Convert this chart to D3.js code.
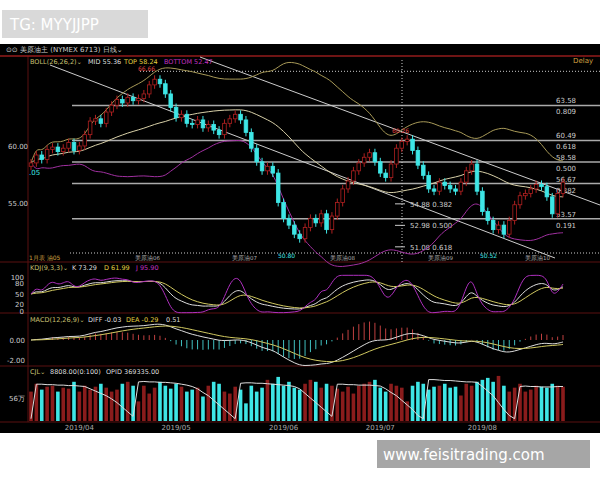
<!DOCTYPE html>
<html><head><meta charset="utf-8">
<script src="https://cdn.jsdelivr.net/npm/d3@7"></script>
<style>body{margin:0;background:#fff}svg text{font-family:"DejaVu Sans",sans-serif}</style>
</head><body><svg id="c" width="600" height="480"></svg>
<script>
const closes=[58.5,59.2,58.8,59.7,59.9,59.5,59.8,60.3,59.6,60.0,
61.0,62.2,62.4,62.0,63.0,63.6,64.1,63.8,64.3,64.0,
64.2,64.6,65.4,65.9,65.5,64.6,63.4,62.5,62.8,62.0,
61.9,62.3,61.6,61.9,61.4,61.0,62.0,62.4,62.8,62.3,
61.2,59.8,58.6,57.8,58.2,57.6,55.0,53.6,53.0,52.2,
51.8,52.8,53.6,53.2,54.0,52.6,53.8,55.0,56.2,56.9,
57.8,58.5,59.0,59.4,58.6,57.6,57.2,58.4,59.8,60.4,
60.6,59.6,58.3,57.4,56.2,56.0,56.8,56.5,56.2,56.0,
56.8,57.8,58.4,56.0,54.2,53.4,52.6,53.0,52.2,53.4,
54.8,55.6,55.8,56.2,56.6,56.4,55.5,54.0,55.8,56.8];
const volumes=[30,38,32,35,36,30,34,33,40,30,36,32,35,38,34,30,32,38,40,36,
20,36,28,34,40,36,33,38,35,30,32,34,25,36,40,38,30,28,35,32,
18,36,30,34,42,38,45,36,40,34,32,38,42,40,34,38,36,33,30,35,
28,36,38,40,42,34,30,38,36,34,20,36,40,38,32,35,36,38,34,35,
26,38,36,40,42,44,40,46,36,30,34,38,30,32,36,35,34,38,36,35];
const oiVals=[5,80,80,79,79,78,78,77,77,76,75,70,65,60,55,48,40,30,20,10,
85,86,85,85,84,84,83,82,80,78,75,70,62,55,45,35,25,15,5,82,
83,83,82,82,81,80,79,78,77,75,70,60,50,40,30,20,10,80,80,79,
79,78,78,78,77,76,70,62,55,45,35,25,12,5,90,90,89,88,88,87,
86,85,85,84,75,65,55,40,25,12,5,75,76,75,75,74,74,74,75,75];
const fibs=[[63.58,"0.809"],[60.49,"0.618"],[58.58,"0.500"],[56.67,"0.382"],[53.57,"0.191"]];
const innerFibs=[[54.88,"0.382"],[52.98,"0.500"],[51.08,"0.618"]];
const months=["2019/04","2019/05","2019/06","2019/07","2019/08"];
const monthIdx=[9,27,47,65,84];

const svg=d3.select("#c");
svg.append("rect").attr("x",0).attr("y",44).attr("width",600).attr("height",389).attr("fill","#000");
svg.append("rect").attr("x",2).attr("y",10).attr("width",146).attr("height",28).attr("fill","#d9d9d9");
svg.append("text").attr("x",10).attr("y",30).attr("font-size",15).attr("fill","#fff").text("TG: MYYJJPP");
svg.append("rect").attr("x",377).attr("y",440).attr("width",213).attr("height",28).attr("fill","#a6a6a6");
svg.append("text").attr("x",383).attr("y",460).attr("font-size",15).attr("fill","#fff").text("www.feisitrading.com");

const n=closes.length;
const x=d3.scaleLinear().domain([0,n-1]).range([31,563]);
const y=d3.scaleLinear().domain([50.8,67.6]).range([250,60]);
const opens=closes.map((c,i)=>i?closes[i-1]:c-0.3);
const red="#b02020",cyan="#3ee6e6",border="#5a1010";

[56,262,313,366,422].forEach(yy=>svg.append("line").attr("x1",0).attr("x2",600).attr("y1",yy).attr("y2",yy).attr("stroke",border));
svg.append("line").attr("x1",28).attr("x2",28).attr("y1",56).attr("y2",422).attr("stroke",border);
svg.append("line").attr("x1",0).attr("x2",600).attr("y1",56).attr("y2",56).attr("stroke","#b02020");

fibs.forEach(([v,r])=>{svg.append("line").attr("x1",72).attr("x2",600).attr("y1",y(v)).attr("y2",y(v)).attr("stroke","#aaa").attr("stroke-width",1.5);
 svg.append("text").attr("x",556).attr("y",y(v)-2).attr("font-size",7).attr("fill","#ccc").text(v.toFixed(2));
 svg.append("text").attr("x",556).attr("y",y(v)+9).attr("font-size",7).attr("fill","#ccc").text(r);});
innerFibs.forEach(([v,r])=>{svg.append("line").attr("x1",395).attr("x2",405).attr("y1",y(v)).attr("y2",y(v)).attr("stroke","#ccc");
 svg.append("text").attr("x",410).attr("y",y(v)+3).attr("font-size",7).attr("fill","#ccc").text(v.toFixed(2)+" "+r);});
svg.append("line").attr("x1",140).attr("x2",600).attr("y1",y(66.6)).attr("y2",y(66.6)).attr("stroke","#ccc").attr("stroke-dasharray","1,2");
svg.append("line").attr("x1",70).attr("x2",600).attr("y1",253).attr("y2",253).attr("stroke","#ccc").attr("stroke-dasharray","1,2");
svg.append("line").attr("x1",402).attr("x2",402).attr("y1",60).attr("y2",262).attr("stroke","#ccc").attr("stroke-dasharray","1,2");
svg.append("line").attr("x1",200).attr("y1",57).attr("x2",600).attr("y2",205).attr("stroke","#ccc");
svg.append("line").attr("x1",50).attr("y1",65).attr("x2",555).attr("y2",258).attr("stroke","#ccc");

const boll=closes.map((c,i)=>{const s=closes.slice(Math.max(0,i-25),i+1);const m=d3.mean(s),sd=d3.deviation(s)||0;return [m,m+2*sd,m-2*sd];});
const ln=k=>d3.line().x((d,i)=>x(i)).y(d=>y(d[k])).curve(d3.curveBasis);
svg.append("path").datum(boll).attr("d",ln(0)).attr("fill","none").attr("stroke","#d8d0a8");
svg.append("path").datum(boll).attr("d",ln(1)).attr("fill","none").attr("stroke","#a89a58");
svg.append("path").datum(boll).attr("d",ln(2)).attr("fill","none").attr("stroke","#a030a0");

closes.forEach((c,i)=>{const o=opens[i],up=c>=o,col=up?red:cyan;
 svg.append("line").attr("x1",x(i)).attr("x2",x(i)).attr("y1",y(Math.max(o,c)+0.35)).attr("y2",y(Math.min(o,c)-0.35)).attr("stroke",col);
 svg.append("rect").attr("x",x(i)-1.8).attr("width",3.6).attr("y",y(Math.max(o,c))).attr("height",Math.max(1,Math.abs(y(o)-y(c))))
 .attr("fill",up?"#000":col).attr("stroke",col).attr("stroke-width",0.8);});

svg.append("text").attr("x",6).attr("y",52).attr("font-size",7).attr("fill","#ccc").text("⊙⊙ 美原油主 (NYMEX 6713)   日线⌄");
[["BOLL(26,26,2)⌄",30,"#c8c070"],["MID 55.36",88,"#ddd"],["TOP 58.24",124,"#e0d040"],["BOTTOM 52.47",164,"#c030c0"]]
 .forEach(([t,xx,c])=>svg.append("text").attr("x",xx).attr("y",64).attr("font-size",6.5).attr("fill",c).text(t));
svg.append("text").attr("x",573).attr("y",63).attr("font-size",7).attr("fill","#d0a040").text("Delay");
svg.append("text").attr("x",138).attr("y",71).attr("font-size",6).attr("fill","#e04040").text("66.66");
svg.append("text").attr("x",392).attr("y",133).attr("font-size",6).attr("fill","#e04040").text("60.26");
svg.append("text").attr("x",278).attr("y",258).attr("font-size",6).attr("fill",cyan).text("50.80");
svg.append("text").attr("x",480).attr("y",258).attr("font-size",6).attr("fill",cyan).text("50.52");
[[60,"60.00"],[55,"55.00"]].forEach(([v,t])=>svg.append("text").attr("x",8).attr("y",y(v)+3).attr("font-size",7).attr("fill","#ccc").text(t));
svg.append("text").attr("x",29).attr("y",175).attr("font-size",7).attr("fill",cyan).text(".05");
svg.append("text").attr("x",29).attr("y",260).attr("font-size",6).attr("fill","#d0a040").text("1月表 油05");
["美原油06","美原油07","美原油08","美原油09","美原油10"].forEach((t,i)=>svg.append("text").attr("x",[135,232,330,428,525][i]).attr("y",260).attr("font-size",5.5).attr("fill","#aaa").text(t));

let K=50,D=50;const kdj=closes.map((c,i)=>{const s=closes.slice(Math.max(0,i-8),i+1);const hi=d3.max(s)+0.35,lo=d3.min(s)-0.35;const rsv=(c-lo)/(hi-lo)*100;K=2/3*K+rsv/3;D=2/3*D+K/3;return [K,D,3*K-2*D];});
const yk=d3.scaleLinear().domain([0,100]).range([311,277]);
[[0,"#ddd"],[1,"#d0c860"],[2,"#b030c0"]].forEach(([k,c])=>svg.append("path").datum(kdj).attr("d",d3.line().x((d,i)=>x(i)).y(d=>yk(Math.max(-5,Math.min(105,d[k])))).curve(d3.curveBasis)).attr("fill","none").attr("stroke",c));
[100,80,50,20,0].forEach(v=>svg.append("text").attr("x",24).attr("y",yk(v)+2.5).attr("font-size",7).attr("text-anchor","end").attr("fill","#ccc").text(v));
[["KDJ(9,3,3)⌄",30,"#c8c070"],["K 73.29",72,"#ddd"],["D 61.99",104,"#e0d040"],["J 95.90",136,"#c030c0"]].forEach(([t,xx,c])=>svg.append("text").attr("x",xx).attr("y",270).attr("font-size",6.5).attr("fill",c).text(t));

const ema=(arr,p)=>{let e=arr[0];return arr.map(v=>e=e+(v-e)*2/(p+1));};
const e12=ema(closes,12),e26=ema(closes,26);const dif=e12.map((v,i)=>v-e26[i]);const dea=ema(dif,9);
const ym=d3.scaleLinear().domain([-2.4,1.8]).range([364,322]);
dif.forEach((d,i)=>{const h=(d-dea[i])*2;svg.append("line").attr("x1",x(i)).attr("x2",x(i)).attr("y1",ym(0)).attr("y2",ym(h)).attr("stroke",h>=0?"#c04040":"#40c0c0");});
svg.append("path").datum(dif).attr("d",d3.line().x((d,i)=>x(i)).y(d=>ym(d)).curve(d3.curveBasis)).attr("fill","none").attr("stroke","#ddd");
svg.append("path").datum(dea).attr("d",d3.line().x((d,i)=>x(i)).y(d=>ym(d)).curve(d3.curveBasis)).attr("fill","none").attr("stroke","#d0c860");
[[0,"0.00"],[-2,"-2.00"]].forEach(([v,t])=>svg.append("text").attr("x",25).attr("y",ym(v)+2.5).attr("font-size",7).attr("text-anchor","end").attr("fill","#ccc").text(t));
[["MACD(12,26,9)⌄",30,"#c8c070"],["DIFF -0.03",88,"#ddd"],["DEA -0.29",126,"#e0d040"],["0.51",166,"#ddd"]].forEach(([t,xx,c])=>svg.append("text").attr("x",xx).attr("y",322).attr("font-size",6.5).attr("fill",c).text(t));

const yv=d3.scaleLinear().domain([0,50]).range([421,372]);
volumes.forEach((v,i)=>{const up=closes[i]>=opens[i];svg.append("rect").attr("x",x(i)-1.8).attr("width",3.6).attr("y",yv(v)).attr("height",421-yv(v)).attr("fill",up?"#8a1c1c":cyan);});
const yo=d3.scaleLinear().domain([0,100]).range([421,375]);
svg.append("path").datum(oiVals).attr("d",d3.line().x((d,i)=>x(i)).y(d=>yo(d))).attr("fill","none").attr("stroke","#ddd");
svg.append("text").attr("x",25).attr("y",401).attr("font-size",7).attr("text-anchor","end").attr("fill","#ccc").text("56万");
[["CJL⌄",30,"#c8c070"],["8808.00(0:100)",50,"#ddd"],["OPID 369335.00",106,"#ddd"]].forEach(([t,xx,c])=>svg.append("text").attr("x",xx).attr("y",374).attr("font-size",6.5).attr("fill",c).text(t));
months.forEach((m,i)=>svg.append("text").attr("x",x(monthIdx[i])).attr("y",430).attr("font-size",7).attr("text-anchor","middle").attr("fill","#aaa").text(m));
</script></body></html>
